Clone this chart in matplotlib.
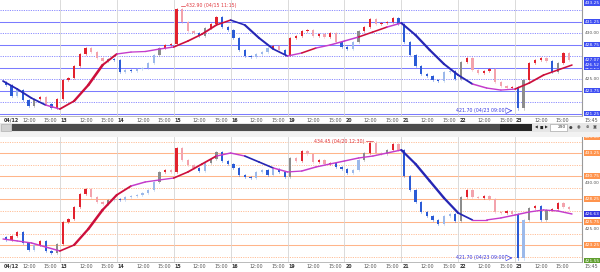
import matplotlib
matplotlib.use('Agg')
import matplotlib.pyplot as plt
import numpy as np
from matplotlib.collections import LineCollection
from matplotlib.patches import Rectangle

# ---------------- data ----------------
days = ['04/12', '13', '14', '15', '16', '19', '20', '21', '22', '23']
bars_per_day = 10

top_close = [
    424.35, 423.15, 423.80, 422.72, 422.07, 422.83, 423.04, 422.28, 421.85, 422.83,
    424.89, 425.11, 426.41, 427.72, 428.37, 427.93, 427.28, 426.96, 427.17, 427.07,
    425.76, 425.98, 425.87, 426.09, 426.20, 426.74, 427.61, 428.37, 428.70, 428.80,
    432.60, 431.20, 430.22, 430.00, 429.67, 430.54, 430.98, 431.74, 430.65, 430.33,
    429.46, 428.15, 427.50, 427.39, 427.72, 427.93, 428.37, 428.59, 428.15, 427.61,
    429.46, 429.67, 430.22, 430.33, 429.67, 429.89, 429.57, 430.00, 429.02, 428.48,
    428.26, 429.02, 430.22, 430.65, 431.52, 430.98, 431.09, 431.20, 431.63, 430.98,
    429.02, 427.61, 426.41, 425.54, 425.33, 424.89, 424.78, 425.76, 425.87, 425.00,
    426.85, 427.28, 425.98, 425.65, 425.87, 426.09, 424.67, 424.24, 424.02, 424.13,
    421.80, 424.89, 426.74, 427.07, 427.28, 426.96, 425.76, 426.74, 427.83, 427.07,
]
bot_close = [
    423.80, 424.24, 424.67, 423.48, 422.72, 423.26, 423.70, 422.61, 422.39, 423.37,
    425.76, 426.09, 427.39, 428.80, 429.35, 428.48, 427.93, 427.72, 428.15, 428.26,
    428.15, 428.48, 428.59, 428.70, 428.91, 429.24, 430.11, 431.20, 431.41, 431.20,
    433.80, 432.50, 431.96, 431.63, 431.30, 432.17, 432.61, 433.37, 432.39, 432.07,
    431.63, 430.87, 430.65, 430.54, 431.20, 431.41, 430.87, 431.52, 431.20, 430.65,
    432.72, 432.39, 433.48, 433.15, 432.28, 432.50, 432.07, 432.17, 431.74, 431.52,
    431.09, 431.41, 432.50, 433.26, 434.40, 433.26, 433.15, 433.59, 434.24, 433.59,
    430.76, 429.24, 427.93, 426.85, 426.41, 425.98, 425.54, 426.41, 426.63, 425.87,
    428.48, 429.24, 428.48, 428.37, 428.59, 428.26, 426.85, 426.74, 426.96, 426.63,
    421.80, 425.98, 427.28, 427.50, 425.98, 427.07, 427.17, 427.83, 427.39, 427.17,
]

ma_step = 0.25  # days between moving-average samples
top_ma = [424.78, 423.91, 422.93, 422.17, 421.74, 422.61, 424.35, 426.52, 427.72, 427.93,
          427.99, 428.26, 428.48, 429.13, 429.89, 430.87, 431.41, 430.87, 429.46, 428.26,
          427.50, 427.83, 428.37, 428.70, 429.13, 429.57, 430.11, 430.65, 431.09, 429.78,
          428.15, 426.63, 425.43, 424.46, 424.02, 423.80, 423.91, 424.57, 425.43, 425.98,
          426.52]
bot_ma = [423.91, 423.70, 423.48, 423.04, 422.61, 423.26, 425.00, 427.07, 428.70, 429.67,
          430.11, 430.33, 430.54, 431.20, 432.07, 432.93, 433.26, 432.93, 432.28, 431.63,
          431.20, 431.30, 431.74, 432.07, 432.39, 432.72, 432.93, 433.26, 433.59, 432.07,
          430.22, 428.37, 426.74, 425.98, 425.98, 426.20, 426.52, 426.85, 427.07, 426.96,
          426.63]

top_solid = [433.75, 431.25, 428.75, 426.25, 423.75, 421.25]
top_dotted = [432.5, 430.0, 427.5, 425.0, 422.5]
bot_solid = [433.25, 430.75, 428.25, 425.75, 423.25]
bot_dotted = [434.5, 432.0, 429.5, 427.0, 424.5, 422.0]

top_ylim = (420.98, 433.59)
bot_ylim = (421.41, 435.0)

top_high_text = '432.90 (04/15 11:15)'
bot_high_text = '434.45 (04/20 12:30)'
low_text = '421.70 (04/23 09:00)'

# ---------------- figure ----------------
W, H = 600, 272
fig = plt.figure(figsize=(6, 2.72), dpi=100)
fig.patch.set_facecolor('white')

PX_DAY = 56.9
X0 = 3.0


def dx(px):
    return (px - X0) / PX_DAY


def fxy(px, py):
    return px / W, 1 - py / H


xlim = (dx(0), dx(582))

ax_top = fig.add_axes([0, 1 - 116 / H, 582 / W, 116 / H])
ax_bot = fig.add_axes([0, 1 - 262 / H, 582 / W, 125 / H])


def draw_panel(ax, closes, ma, solid, dotted, lcol, ylim):
    ax.set_xlim(*xlim)
    ax.set_ylim(*ylim)
    ax.set_xticks([])
    ax.set_yticks([])
    for s in ['top', 'left']:
        ax.spines[s].set_visible(False)
    ax.spines['right'].set_color('#9a9a9a')
    ax.spines['bottom'].set_color('#b0b0b0')
    ax.spines['right'].set_linewidth(0.8)
    ax.spines['bottom'].set_linewidth(0.6)
    for lv in solid:
        ax.axhline(lv, color=lcol[0], lw=0.75, zorder=1)
    for lv in dotted:
        ax.axhline(lv, color=lcol[1], lw=0.7, ls=(0, (1.2, 1.2)), zorder=1)
    for d in range(1, len(days)):
        ax.axvline(d, color='#d4d4d4', lw=0.6, zorder=1)

    n = len(closes)
    xs = np.arange(n) / bars_per_day + 0.5 / bars_per_day
    ma_x = np.arange(len(ma)) * ma_step
    ma_at = np.interp(xs, ma_x, ma)
    for i in range(n):
        c = closes[i]
        o = closes[i - 1] if i > 0 else closes[i] + 0.3
        m = ma_at[i]
        if (o - m) * (c - m) < 0:
            col = '#2b5bd6' if c < o else '#8c8c8c'
        elif c >= o and c > m:
            col = '#e2222e'
        elif c < o and c > m:
            col = '#f3a3ad'
        elif c < o:
            col = '#2b5bd6'
        else:
            col = '#9cb9ea'
        lo, hi = min(o, c), max(o, c)
        ax.plot([xs[i], xs[i]], [lo - 0.12, hi + 0.12], color=col, lw=0.45, alpha=0.7, zorder=2)
        ax.bar(xs[i], max(hi - lo, 0.1), bottom=lo, width=0.04, color=col,
               edgecolor='none', zorder=3)

    pts = np.column_stack([ma_x, ma])
    segs = np.stack([pts[:-1], pts[1:]], axis=1)
    slopes = np.diff(ma) / ma_step
    cols, lws = [], []
    for s in slopes:
        if s > 2.0:
            cols.append('#cc0f3c')
        elif s < -2.0:
            cols.append('#2626b4')
        else:
            cols.append('#c43ccc')
        lws.append(0.9 + min(abs(s), 10) / 9.0)
    lc = LineCollection(segs, colors=cols, linewidths=lws, capstyle='round', zorder=4)
    ax.add_collection(lc)


draw_panel(ax_top, top_close, top_ma, top_solid, top_dotted, ('#7b7bff', '#8d8dff'), top_ylim)
draw_panel(ax_bot, bot_close, bot_ma, bot_solid, bot_dotted, ('#ffb58a', '#ffc09a'), bot_ylim)

# annotations
ax_top.text(dx(186), 432.95, top_high_text, color='#e0393f', fontsize=3.4, va='center', ha='left')
ax_top.plot([dx(181), dx(185)], [432.95, 432.95], color='#e0393f', lw=0.5)
ax_top.text(dx(506), 421.55, low_text, color='#3a3ae0', fontsize=3.4, va='center', ha='right')
ax_top.annotate('', xy=(dx(515), 421.55), xytext=(dx(508), 421.55),
                arrowprops=dict(arrowstyle='->', color='#3a3ae0', lw=0.5))
ax_bot.text(dx(364), 434.55, bot_high_text, color='#e0393f', fontsize=3.4, va='center', ha='right')
ax_bot.plot([dx(366), dx(373)], [434.55, 434.55], color='#e0393f', lw=0.5)
ax_bot.text(dx(506), 421.85, low_text, color='#3a3ae0', fontsize=3.4, va='center', ha='right')
ax_bot.annotate('', xy=(dx(515), 421.85), xytext=(dx(508), 421.85),
                arrowprops=dict(arrowstyle='->', color='#3a3ae0', lw=0.5))

# right-hand price labels
def box(ax, v, fc, tc='white'):
    ax.text(1.005, v, f'{v:.2f}', transform=ax.get_yaxis_transform(), fontsize=3.1,
            color=tc, ha='left', va='center', clip_on=False,
            bbox=dict(boxstyle='square,pad=0.18', fc=fc, ec='none'))


def plain(ax, v):
    ax.text(1.005, v, f'{v:.2f}', transform=ax.get_yaxis_transform(), fontsize=3.1,
            color='#555555', ha='left', va='center', clip_on=False)


for v in top_solid:
    if top_ylim[0] < v < top_ylim[1]:
        box(ax_top, v, '#3f4ff2')
box(ax_top, 433.25, '#3f4ff2')
box(ax_top, top_close[-1], '#3f4ff2')
box(ax_top, top_ma[-1], '#3f4ff2')
plain(ax_top, 430.0)
plain(ax_top, 425.0)

for v in bot_solid:
    box(ax_bot, v, '#ff944d')
box(ax_bot, 435.0, '#ff944d')
box(ax_bot, bot_ma[-1], '#3535e0')
box(ax_bot, 421.55, '#5f9e2e')
plain(ax_bot, 430.0)
plain(ax_bot, 425.0)

# time axis labels
for ypx in (120, 266):
    for d, lab in enumerate(days):
        base = X0 + PX_DAY * d
        x, y = fxy(base + 1, ypx)
        fig.text(x, y, lab, fontsize=3.4, ha='left', va='center', color='#333333', fontweight='bold')
        x, y = fxy(base + 26, ypx)
        fig.text(x, y, '12:00', fontsize=3.4, ha='center', va='center', color='#555555')
        x, y = fxy(base + PX_DAY - 2.5, ypx)
        fig.text(x, y, '15:00', fontsize=3.4, ha='right', va='center', color='#555555')
    x, y = fxy(591, ypx)
    fig.text(x, y, '15:45', fontsize=3.4, ha='center', va='center', color='#555555')


def frect(px, py, pw, ph, fc, ec='none', lw=0.0):
    x, y = fxy(px, py + ph)
    fig.add_artist(Rectangle((x, y), pw / W, ph / H, transform=fig.transFigure,
                             facecolor=fc, edgecolor=ec, linewidth=lw))


# scroll bar and controls
frect(0, 123, 600, 9, '#e6e6e6')
frect(0, 132, 600, 5, '#f2f2f2')
frect(1, 124, 10, 7, '#d2d2d2', '#aaaaaa', 0.4)
frect(12, 124, 488, 7, '#4b4b4b')
frect(500, 124, 32, 7, '#262626')
for i, sym in enumerate(['◀', '■', '▶']):
    x, y = fxy(536 + i * 5, 127.5)
    fig.text(x, y, sym, fontsize=2.6, ha='center', va='center', color='#222222')
frect(550, 124, 17, 7, 'white', '#999999', 0.4)
x, y = fxy(566, 127.5)
fig.text(x, y, '290', fontsize=3.2, ha='right', va='center', color='#333333')
for i, sym in enumerate(['●', '◉', '⊕', '▣']):
    x, y = fxy(571 + i * 8, 127.5)
    fig.text(x, y, sym, fontsize=3.0, ha='center', va='center', color='#444444')

fig.savefig('out.png', dpi=100, facecolor='white')
